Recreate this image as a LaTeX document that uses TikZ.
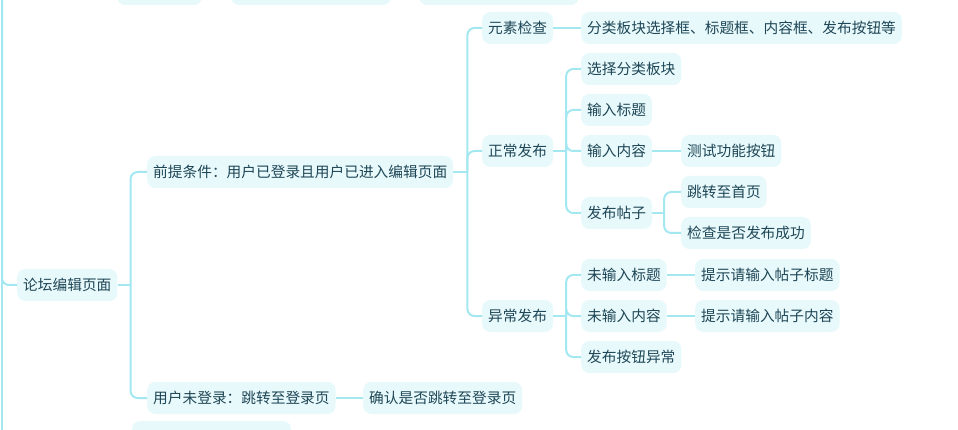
\documentclass[tikz,border=0pt]{standalone}
\usepackage{fontspec}
\setmainfont{Noto Sans CJK SC}
\usepackage{tikz}
\definecolor{boxfill}{HTML}{E8F9FB}
\definecolor{linkc}{HTML}{A3E8F1}
\definecolor{textc}{HTML}{1E4656}
\tikzset{
  mapbox/.style={fill=boxfill, rounded corners=8pt, text=textc, inner xsep=6pt, inner ysep=0pt, minimum height=32pt, anchor=west},
  link/.style={draw=linkc, line width=2pt, rounded corners=7pt}
}

\begin{document}
\begin{tikzpicture}[x=1pt, y=-1pt, every node/.style={font=\fontsize{14.7}{17}\selectfont}]
	\clip (0,0) rectangle (958,430);
	\fill[boxfill, rounded corners=8pt] (117,-30) rectangle (202,5);
	\fill[boxfill, rounded corners=8pt] (231,-30) rectangle (391,5);
	\fill[boxfill, rounded corners=8pt] (419,-30) rectangle (579,5);
	\fill[boxfill, rounded corners=8pt] (132,421) rectangle (291,460);
	\draw[link] (301,437) to[bend left=60] (311,437);
	\coordinate (trunk) at (2,-20);
	\coordinate (trunkend) at (2,450);
	\node[mapbox] (root) at (17,285) {论坛编辑页面};
	\node[mapbox] (pre) at (147,172) {前提条件：用户已登录且用户已进入编辑页面};
	\node[mapbox] (nolog) at (147,398) {用户未登录：跳转至登录页};
	\node[mapbox] (confirm) at (363,398) {确认是否跳转至登录页};
	\node[mapbox] (elem) at (482,28) {元素检查};
	\node[mapbox] (elemlist) at (581,28) {分类板块选择框、标题框、内容框、发布按钮等};
	\node[mapbox] (normal) at (482,151) {正常发布};
	\node[mapbox] (abnormal) at (482,316) {异常发布};
	\node[mapbox] (sel) at (581,69) {选择分类板块};
	\node[mapbox] (title) at (581,110) {输入标题};
	\node[mapbox] (content) at (581,151) {输入内容};
	\node[mapbox] (testbtn) at (681,151) {测试功能按钮};
	\node[mapbox] (post) at (581,213) {发布帖子};
	\node[mapbox] (home) at (681,192) {跳转至首页};
	\node[mapbox] (check) at (681,233) {检查是否发布成功};
	\node[mapbox] (notitle) at (581,275) {未输入标题};
	\node[mapbox] (tiptitle) at (695,275) {提示请输入帖子标题};
	\node[mapbox] (nocontent) at (581,316) {未输入内容};
	\node[mapbox] (tipcontent) at (695,316) {提示请输入帖子内容};
	\node[mapbox] (btnerr) at (581,357) {发布按钮异常};
	\draw[link] (trunk) -- (trunkend);
	\draw[link] (trunk) |- (root.west);
	\draw[link] (root.east) -- ++(13,0) coordinate (rootJ);
	\foreach \c in {pre,nolog} \draw[link] (rootJ) |- (\c.west);
	\draw[link] (pre.east) -- ++(14,0) coordinate (preJ);
	\foreach \c in {elem,normal,abnormal} \draw[link] (preJ) |- (\c.west);
	\draw[link] (normal.east) -- ++(13,0) coordinate (normalJ);
	\foreach \c in {sel,title,content,post} \draw[link] (normalJ) |- (\c.west);
	\draw[link] (post.east) -- ++(12,0) coordinate (postJ);
	\foreach \c in {home,check} \draw[link] (postJ) |- (\c.west);
	\draw[link] (abnormal.east) -- ++(13,0) coordinate (abnormalJ);
	\foreach \c in {notitle,nocontent,btnerr} \draw[link] (abnormalJ) |- (\c.west);
	\draw[link] (elem.east) -- (elemlist.west);
	\draw[link] (content.east) -- (testbtn.west);
	\draw[link] (notitle.east) -- (tiptitle.west);
	\draw[link] (nocontent.east) -- (tipcontent.west);
	\draw[link] (nolog.east) -- (confirm.west);
\end{tikzpicture}
\end{document}
